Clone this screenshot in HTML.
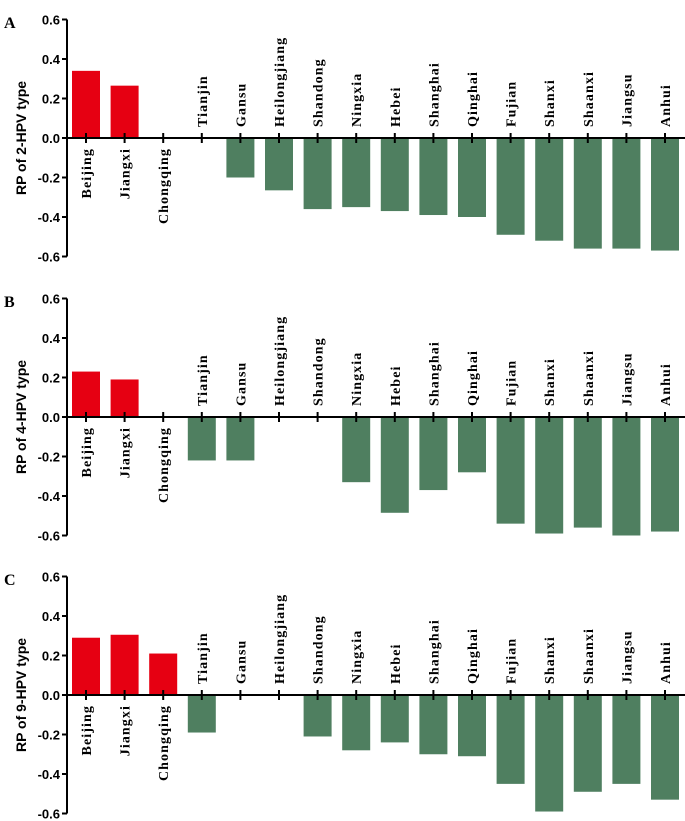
<!DOCTYPE html>
<html><head><meta charset="utf-8"><style>
html,body{margin:0;padding:0;background:#fff;}
svg{display:block;}
text{font-family:"Liberation Sans",Arial,sans-serif;}
</style></head><body>
<svg id="chart" width="685" height="821" viewBox="0 0 685 821"></svg>
<script>
const categories = ["Beijing","Jiangxi","Chongqing","Tianjin","Gansu","Heilongjiang","Shandong","Ningxia","Hebei","Shanghai","Qinghai","Fujian","Shanxi","Shaanxi","Jiangsu","Anhui"];
const valuesA = [0.34,0.265,0,0,-0.2,-0.265,-0.36,-0.35,-0.37,-0.39,-0.40,-0.49,-0.52,-0.56,-0.56,-0.57];
const valuesB = [0.23,0.19,0,-0.22,-0.22,0,0,-0.33,-0.485,-0.37,-0.28,-0.54,-0.59,-0.56,-0.60,-0.58];
const valuesC = [0.29,0.305,0.21,-0.19,0,0,-0.21,-0.28,-0.24,-0.30,-0.31,-0.45,-0.59,-0.49,-0.45,-0.53];
const tickLabels = ["0.6","0.4","0.2","0.0","-0.2","-0.4","-0.6"];
const tickValues = [0.6,0.4,0.2,0,-0.2,-0.4,-0.6];
const panelLetters = ["A","B","C"];
const panelTitles = ["RP of 2-HPV type","RP of 4-HPV type","RP of 9-HPV type"];
const panelValues = [valuesA,valuesB,valuesC];

const NS="http://www.w3.org/2000/svg";
const svg=document.getElementById('chart');
function mk(tag,attrs,parent){const e=document.createElementNS(NS,tag);for(const k in attrs)e.setAttribute(k,attrs[k]);(parent||svg).appendChild(e);return e;}
const zeroYs=[138,417,695];
const axisX=67, pxPerUnit=197.5, x0=86, step=38.6, barW=28;
const SERIF='font-family:"Liberation Serif","Times New Roman",serif;font-weight:bold;';
function xPos(i){return x0+i*step;}

panelValues.forEach((vals,p)=>{
  const z=zeroYs[p];
  const yPos=v=>z-v*pxPerUnit;
  const g=mk('g',{});
  
  
  const L=mk('text',{x:4,y:z-118+8,style:SERIF+'font-size:16px;'},g);
  L.textContent=panelLetters[p];
  
  
  const t=mk('text',{x:0,y:0,'font-size':14,'font-weight':'bold','text-anchor':'middle',transform:`translate(26,${z}) rotate(-90)`},g);
  t.textContent=panelTitles[p];
  
  
  vals.forEach((v,i)=>{
    if(v===0)return;
    const y1=yPos(v);
    const b=mk('rect',{x:xPos(i)-barW/2,y:Math.min(y1,z),width:barW,height:Math.abs(z-y1),fill:v>0?'#e60012':'#4f7f60'},g);
    
    
  });
  const ya=mk('line',{x1:axisX,y1:yPos(0.6),x2:axisX,y2:yPos(-0.6),stroke:'#000','stroke-width':2},g);
  
  
  tickValues.forEach((tv,k)=>{
    const y=yPos(tv);
    mk('line',{x1:axisX-5,y1:y,x2:axisX,y2:y,stroke:'#000','stroke-width':2},g);
    const tl=mk('text',{x:axisX-7,y:y+5,'font-size':13,'font-weight':'bold','text-anchor':'end'},g);
    tl.textContent=tickLabels[k];
    
    
  });
  const xa=mk('line',{x1:axisX,y1:z,x2:xPos(15)+20,y2:z,stroke:'#000','stroke-width':2},g);
  
  
  categories.forEach((c,i)=>{
    const x=xPos(i);
    mk('line',{x1:x,y1:z-5,x2:x,y2:z+5,stroke:'#000','stroke-width':2},g);
    const below=i<3;
    const ty=below?z+10:z-11;
    const lab=mk('text',{x:0,y:0,style:SERIF+'font-size:14px;letter-spacing:1.1px;','text-anchor':below?'end':'start',transform:`translate(${x+5},${ty}) rotate(-90)`},g);
    lab.textContent=c;
    
    
  });
});
</script>
</body></html>
